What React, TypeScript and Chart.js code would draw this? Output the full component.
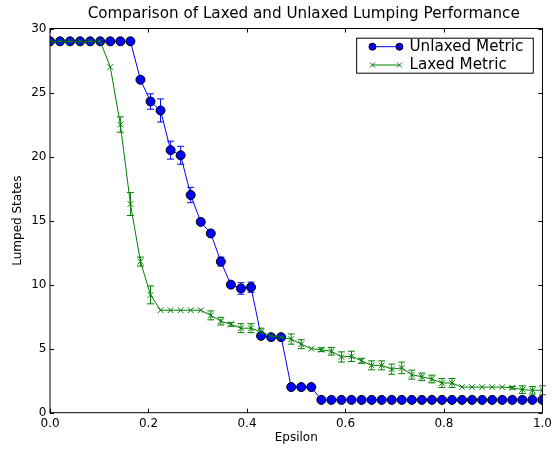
import React, { useEffect, useRef } from "react";
import { Chart, registerables } from "chart.js";

Chart.register(...registerables);

const TITLE = "Comparison of Laxed and Unlaxed Lumping Performance";
const X_LABEL = "Epsilon";
const Y_LABEL = "Lumped States";
const SERIES_NAMES = ["Unlaxed Metric", "Laxed Metric"];

const epsilon = [
  0, 0.0204, 0.0408, 0.0612, 0.0816, 0.102, 0.1224, 0.1429, 0.1633, 0.1837,
  0.2041, 0.2245, 0.2449, 0.2653, 0.2857, 0.3061, 0.3265, 0.3469, 0.3673, 0.3878,
  0.4082, 0.4286, 0.449, 0.4694, 0.4898, 0.5102, 0.5306, 0.551, 0.5714, 0.5918,
  0.6122, 0.6327, 0.6531, 0.6735, 0.6939, 0.7143, 0.7347, 0.7551, 0.7755, 0.7959,
  0.8163, 0.8367, 0.8571, 0.8776, 0.898, 0.9184, 0.9388, 0.9592, 0.9796, 1.0,
];

const unlaxed = [
  29, 29, 29, 29, 29, 29, 29, 29, 29, 26.0,
  24.3, 23.6, 20.5, 20.1, 17.0, 14.9, 14.0, 11.8, 10.0, 9.7,
  9.8, 6.0, 5.9, 5.9, 2.0, 2.0, 2.0, 1, 1, 1,
  1, 1, 1, 1, 1, 1, 1, 1, 1, 1,
  1, 1, 1, 1, 1, 1, 1, 1, 1, 1,
];
const unlaxedErr = [
  0, 0, 0, 0, 0, 0, 0, 0, 0, 0,
  0.6, 0.9, 0.7, 0.7, 0.6, 0.2, 0, 0.35, 0, 0.45,
  0.4, 0, 0.2, 0.2, 0, 0, 0, 0, 0, 0,
  0, 0, 0, 0, 0, 0, 0, 0, 0, 0,
  0, 0, 0, 0, 0, 0, 0, 0, 0, 0,
];

const laxed = [
  29, 29, 29, 29, 29, 29, 27.0, 22.5, 16.3, 11.8,
  9.2, 8.0, 8.0, 8.0, 8.0, 8.0, 7.6, 7.15, 6.9, 6.6,
  6.6, 6.3, 6.0, 5.9, 5.75, 5.35, 5.0, 4.92, 4.8, 4.35,
  4.4, 4.05, 3.7, 3.7, 3.4, 3.5, 2.97, 2.8, 2.63, 2.32,
  2.32, 2.0, 2.0, 2.0, 2.0, 2.0, 1.95, 1.8, 1.75, 1.75,
];
const laxedErr = [
  0, 0, 0, 0, 0, 0, 0, 0.6, 0.9, 0.35,
  0.7, 0, 0, 0, 0, 0, 0.35, 0.3, 0.15, 0.35,
  0.35, 0.3, 0.15, 0.2, 0.4, 0.35, 0, 0.15, 0.3, 0.4,
  0.4, 0.2, 0.35, 0.35, 0.4, 0.45, 0.35, 0.3, 0.3, 0.35,
  0.35, 0, 0, 0, 0, 0, 0.1, 0.3, 0.3, 0.35,
];

const xTicks = [0, 0.2, 0.4, 0.6, 0.8, 1.0];
const yTicks = [0, 5, 10, 15, 20, 25, 30];

const BLUE = "#0000ff";
const GREEN = "#008000";
const FONT = "'DejaVu Sans', sans-serif";

const errorBarPlugin = {
  id: "errorBars",
  beforeDatasetsDraw(chart: any) {
    const ctx = chart.ctx;
    const xs = chart.scales.x;
    const ys = chart.scales.y;
    chart.data.datasets.forEach((ds: any) => {
      const errs: number[] = ds.errors || [];
      ctx.save();
      ctx.strokeStyle = ds.borderColor;
      ctx.lineWidth = 1;
      ds.data.forEach((p: any, i: number) => {
        const e = errs[i];
        if (!e) return;
        const px = xs.getPixelForValue(p.x);
        const y1 = ys.getPixelForValue(p.y - e);
        const y2 = ys.getPixelForValue(p.y + e);
        ctx.beginPath();
        ctx.moveTo(px, y1);
        ctx.lineTo(px, y2);
        ctx.moveTo(px - 3.5, y1);
        ctx.lineTo(px + 3.5, y1);
        ctx.moveTo(px - 3.5, y2);
        ctx.lineTo(px + 3.5, y2);
        ctx.stroke();
      });
      ctx.restore();
    });
  },
};

const framePlugin = {
  id: "frame",
  afterDraw(chart: any) {
    const ctx = chart.ctx;
    const { left, right, top, bottom } = chart.chartArea;
    const xs = chart.scales.x;
    const ys = chart.scales.y;
    ctx.save();
    ctx.strokeStyle = "#000";
    ctx.lineWidth = 1;
    ctx.strokeRect(left, top, right - left, bottom - top);
    ctx.beginPath();
    xTicks.forEach((v) => {
      const px = Math.round(xs.getPixelForValue(v)) + 0.5;
      ctx.moveTo(px, bottom);
      ctx.lineTo(px, bottom - 4);
      ctx.moveTo(px, top);
      ctx.lineTo(px, top + 4);
    });
    yTicks.forEach((v) => {
      const py = Math.round(ys.getPixelForValue(v)) + 0.5;
      ctx.moveTo(left, py);
      ctx.lineTo(left + 4, py);
      ctx.moveTo(right, py);
      ctx.lineTo(right - 4, py);
    });
    ctx.stroke();

    // title
    ctx.fillStyle = "#000";
    ctx.font = `15.2px ${FONT}`;
    ctx.textAlign = "center";
    ctx.textBaseline = "middle";
    ctx.fillText(TITLE, (left + right) / 2 + 7.5, 14.5);

    // legend
    const bx = right - 186.3;
    const by = top + 9.2;
    const bw = 176.6;
    const bh = 35;
    ctx.fillStyle = "#fff";
    ctx.fillRect(bx, by, bw, bh);
    ctx.strokeRect(bx + 0.5, by + 0.5, bw, bh);
    const rows = [
      { name: SERIES_NAMES[0], color: BLUE, marker: "dot", y: by + 9 },
      { name: SERIES_NAMES[1], color: GREEN, marker: "x", y: by + 27.3 },
    ];
    rows.forEach((r) => {
      const x1 = bx + 16.3;
      const x2 = bx + 43.3;
      ctx.strokeStyle = r.color;
      ctx.lineWidth = 1;
      ctx.beginPath();
      ctx.moveTo(x1, r.y);
      ctx.lineTo(x2, r.y);
      ctx.stroke();
      [x1, x2].forEach((mx) => {
        if (r.marker === "dot") {
          ctx.beginPath();
          ctx.arc(mx, r.y, 3.5, 0, Math.PI * 2);
          ctx.fillStyle = r.color;
          ctx.fill();
          ctx.strokeStyle = "#000";
          ctx.stroke();
        } else {
          ctx.strokeStyle = r.color;
          ctx.beginPath();
          ctx.moveTo(mx - 2.5, r.y - 2.5);
          ctx.lineTo(mx + 2.5, r.y + 2.5);
          ctx.moveTo(mx - 2.5, r.y + 2.5);
          ctx.lineTo(mx + 2.5, r.y - 2.5);
          ctx.stroke();
        }
      });
      ctx.fillStyle = "#000";
      ctx.font = `15.2px ${FONT}`;
      ctx.textAlign = "left";
      ctx.textBaseline = "middle";
      ctx.fillText(r.name, bx + 53.3, r.y + 0.5);
    });
    ctx.restore();
  },
};

export default function App() {
  const ref = useRef<HTMLCanvasElement | null>(null);
  useEffect(() => {
    if (!ref.current) return;
    const chart = new Chart(ref.current, {
      type: "line",
      data: {
        datasets: [
          {
            label: SERIES_NAMES[0],
            data: epsilon.map((x, i) => ({ x, y: unlaxed[i] })),
            errors: unlaxedErr,
            borderColor: BLUE,
            backgroundColor: BLUE,
            pointBackgroundColor: BLUE,
            pointBorderColor: "#000",
            pointBorderWidth: 1,
            pointRadius: 4.5,
            pointStyle: "circle",
            borderWidth: 1,
            tension: 0,
            order: 2,
          } as any,
          {
            label: SERIES_NAMES[1],
            data: epsilon.map((x, i) => ({ x, y: laxed[i] })),
            errors: laxedErr,
            borderColor: GREEN,
            backgroundColor: GREEN,
            pointBorderColor: GREEN,
            pointBorderWidth: 1,
            pointRadius: 4,
            pointStyle: "crossRot",
            borderWidth: 1,
            tension: 0,
            order: 1,
          } as any,
        ],
      },
      options: {
        animation: false,
        responsive: false,
        layout: { padding: { top: 28.5, right: 13, bottom: 0, left: 0 } },
        plugins: {
          legend: { display: false },
          tooltip: { enabled: false },
          title: { display: false },
        },
        scales: {
          x: {
            type: "linear",
            min: 0,
            max: 1,
            afterFit: (s: any) => {
              s.height = 39.3;
            },
            afterBuildTicks: (s: any) => {
              s.ticks = xTicks.map((v) => ({ value: v }));
            },
            grid: { display: false, drawTicks: false },
            border: { display: false },
            ticks: {
              padding: 4,
              color: "#000",
              font: { family: FONT, size: 12 },
              callback: (v: any) => Number(v).toFixed(1),
              maxRotation: 0,
            },
            title: {
              display: true,
              text: X_LABEL,
              color: "#000",
              font: { family: FONT, size: 12 },
              padding: { top: 0, bottom: 6.8 },
            },
          },
          y: {
            type: "linear",
            min: 0,
            max: 30,
            afterFit: (s: any) => {
              s.width = 50;
            },
            afterBuildTicks: (s: any) => {
              s.ticks = yTicks.map((v) => ({ value: v }));
            },
            grid: { display: false, drawTicks: false },
            border: { display: false },
            ticks: {
              padding: 3.5,
              color: "#000",
              font: { family: FONT, size: 12 },
              callback: (v: any) => String(v),
            },
            title: {
              display: true,
              text: Y_LABEL,
              color: "#000",
              font: { family: FONT, size: 12 },
              padding: { top: 11, bottom: 0 },
            },
          },
        },
      } as any,
      plugins: [errorBarPlugin, framePlugin],
    });
    return () => chart.destroy();
  }, []);
  return (
    <div style={{ position: "fixed", left: 0, top: 0, width: 556, height: 452, background: "#fff" }}>
      <canvas ref={ref} width={556} height={452} />
    </div>
  );
}
